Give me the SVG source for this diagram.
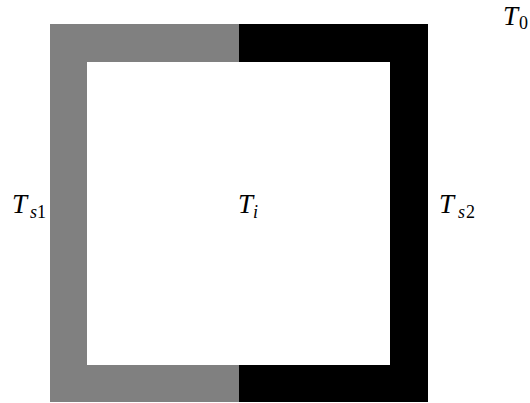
<svg xmlns="http://www.w3.org/2000/svg" width="530" height="403" viewBox="0 0 530 403">
<style>
.lbl{font-family:"Liberation Serif","DejaVu Serif",serif;font-size:27px;fill:#000}
.it{font-style:italic}
.sub{font-size:18px}
</style>
<rect x="0" y="0" width="530" height="403" fill="#fff"/>
<g id="wall-left">
<path d="M50,24 H239 V62 H87 V365 H239 V402 H50 Z" fill="#808080"/>
</g>
<g id="wall-right">
<path d="M239,24 H428 V402 H239 V365 H390 V62 H239 Z" fill="#000"/>
</g>
<g id="connectors"></g>
<g id="label-Ts1"><text class="lbl"><tspan class="it" x="12" y="213">T</tspan><tspan class="sub it" x="30" y="218">s</tspan><tspan class="sub" x="37" y="218">1</tspan></text></g>
<g id="label-Ti"><text class="lbl"><tspan class="it" x="238" y="213">T</tspan><tspan class="sub it" x="253" y="218">i</tspan></text></g>
<g id="label-Ts2"><text class="lbl"><tspan class="it" x="439" y="213">T</tspan><tspan class="sub it" x="458" y="218">s</tspan><tspan class="sub" x="466" y="218">2</tspan></text></g>
<g id="label-T0"><text class="lbl"><tspan class="it" x="503" y="25">T</tspan><tspan class="sub" x="519" y="29">0</tspan></text></g>
</svg>
